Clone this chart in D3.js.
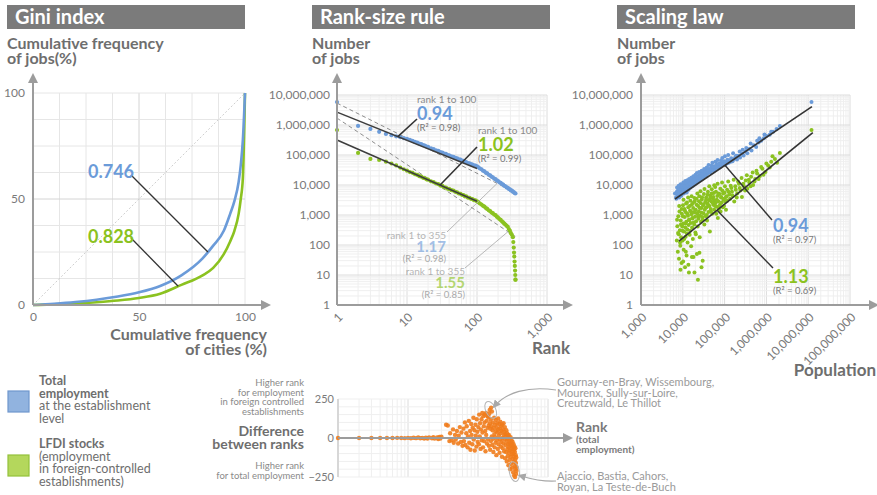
<!DOCTYPE html>
<html>
<head>
<meta charset="utf-8">
<script src="https://cdnjs.cloudflare.com/ajax/libs/d3/7.8.5/d3.min.js"></script>
<style>
  body { margin: 0; background: #fff; }
  svg { font-family: Lato, "Open Sans", sans-serif; }
</style>
</head>
<body>
<svg id="chart" width="877" height="495"></svg>
<script>
// ---------- Data ----------
// Lorenz curves: cumulative share of cities (%) vs cumulative share of jobs (%)
const giniCityShare = [0, 10, 20, 30, 40, 50, 60, 70, 80, 85, 90, 93, 95, 97, 98, 99, 100];
const giniTotalJobs = [0, 0.6, 1.4, 2.5, 4, 6, 9, 14, 22, 28, 35, 43, 49, 58, 66, 78, 100];
const giniLfdiJobs  = [0, 0.3, 0.7, 1.3, 2.1, 3.3, 5.3, 9.5, 14, 17.5, 24, 30, 35, 43, 50, 60, 100];
const giniIndex = [0.746, 0.828];
const giniTicks = [0, 50, 100];

// Rank-size: [rank, number of jobs]
const rankTotal = [
  [1,5800000],[2,930000],[3,740000],[4,590000],[5,505000],[6,455000],[7,420000],[8,392000],[9,366000],[10,348000],
  [11,322000],[12,298000],[13,272000],[14,259000],[15,238000],[16,229000],[17,212000],[18,206000],[19,191000],[20,186000],
  [22,167000],[24,158000],[26,143000],[28,137000],[30,125000],[32,121000],[34,112000],[36,109000],[38,100000],[40,98000],
  [43,90000],[46,87000],[49,80000],[52,78000],[55,72000],[58,70000],[61,65000],[64,63500],[67,60000],[70,58500],
  [74,54000],[78,53000],[82,49500],[86,48200],[90,45500],[95,44200],[100,41500],[105,39000],[110,35500],[116,33400],
  [122,29800],[128,28300],[134,25500],[140,24500],[147,22000],[154,20800],[161,19000],[168,18100],[176,16300],[184,15600],
  [192,14200],[200,13500],[209,12300],[218,11800],[227,10700],[236,10300],[245,9400],[255,9100],[265,8300],[275,8100],
  [285,7400],[295,7200],[305,6600],[315,6500],[325,6000],[335,5800],[345,5400],[355,5200]
];
const rankLfdi = [
  [1,680000],[2,117000],[3,74000],[4,68000],[5,60000],[6,52000],[7,45000],[8,38000],[9,33500],[10,30000],
  [11,27000],[12,25400],[13,22800],[14,21600],[15,19700],[16,18900],[17,17300],[18,16800],[19,15500],[20,15000],
  [22,13300],[24,12500],[26,11200],[28,10700],[30,9600],[32,9300],[34,8400],[36,8200],[38,7500],[40,7400],
  [43,6700],[46,6500],[49,5900],[52,5700],[55,5200],[58,5100],[61,4700],[64,4600],[67,4200],[70,4200],
  [74,3800],[78,3750],[82,3450],[86,3400],[90,3150],[95,3050],[100,2850],[105,2650],[110,2420],[116,2230],
  [122,2020],[128,1890],[134,1700],[140,1600],[147,1430],[154,1350],[161,1210],[168,1150],[176,1040],[184,990],
  [192,880],[200,815],[209,735],[218,685],[227,615],[236,570],[245,515],[255,480],[265,435],[275,405],
  [285,340],[295,300],[305,248],[315,218],[325,183],[330,125],[335,82],[338,56],[341,41],[344,28],
  [347,20],[350,14],[352,10],[354,7],[355,7]
];
// Fitted power laws: log10(jobs) = intercept - slope * log10(rank)
const rankFitSeries     = ["total", "lfdi", "total", "lfdi"];
const rankFitSlopes     = [0.94, 1.02, 1.17, 1.55];
const rankFitIntercepts = [6.43, 5.50, 6.73, 6.23];
const rankFitMaxRank    = [100, 100, 355, 355];
const rankFitR2         = [0.98, 0.99, 0.98, 0.85];

// Scaling law: [population, number of jobs]
const popTotal = [
  [6500,5200],[6900,3900],[7200,6000],[7500,4600],[7800,7100],[8100,5400],[8400,4300],[8700,8000],[9000,6200],[9300,5000],
  [9600,7400],[9900,9200],[10200,5900],[10500,7900],[10800,6600],[11100,10200],[11400,8300],[11800,6400],[12200,9300],[12600,11800],
  [13000,7900],[13400,10100],[13900,8700],[14400,12800],[14900,9800],[15500,11200],[16100,14500],[16700,10400],[17300,12400],[18000,15200],
  [18700,11600],[19400,16800],[20200,13500],[21000,15600],[21900,19000],[22800,14300],[23800,17400],[24800,21000],[25900,16400],[27000,19800],
  [28200,24000],[29500,18700],[30800,22500],[32200,27500],[33700,21000],[35200,25400],[36800,31000],[38500,23800],[40300,28500],[42200,34000],
  [44200,26600],[46300,31500],[48500,38000],[50800,30500],[53200,35500],[55700,42000],[58400,33800],[61200,40500],[64100,47000],[67200,37500],
  [70400,45000],[73800,52000],[77300,42500],[81000,49500],[85000,58000],[89000,46000],[93500,54000],[98000,62000],[104000,48000],[110000,58000],
  [117000,70000],[125000,55000],[134000,66000],[144000,78000],[155000,62000],[168000,74000],[182000,88000],[198000,71000],[215000,95000],[235000,82000],
  [258000,110000],[285000,96000],[315000,130000],[350000,115000],[390000,160000],[440000,140000],[500000,210000],[570000,185000],[650000,260000],[750000,300000],
  [870000,360000],[1000000,430000],[1200000,470000],[1450000,590000],[1750000,740000],[2100000,930000],[12000000,5800000],
  [7000,3500],[7300,8200],[7700,5600],[8000,9500],[8200,3800],[8600,6800],[8900,10500],[9200,4400],[9500,8900],[9900,6100],
  [10300,12000],[10600,5200],[11000,9000],[11500,13500],[11900,7400],[12400,5600],[12800,14500],[13200,9700],[13700,6900],[14200,16000],
  [14800,11200],[15400,8300],[16000,17500],[16600,12700],[17200,9200],[17900,19500],[18600,13800],[19300,10500],[20100,22000],[20900,12300],
  [21800,25000],[22700,17000],[23700,13000],[24700,27000],[25800,20000],[27000,15500],[28300,30000],[29600,23000],[31000,17800],[32500,34000],
  [34000,26000],[35700,20500],[37500,38000],[39400,29500],[41500,46000],[43600,33000],[46000,25500],[48500,44000],[51000,55000],[54000,40000],
  [57000,30000],[60000,60000],[64000,42000],[68000,68000],[72000,50000],[77000,38000],[82000,65000],[88000,80000],[95000,48000],[102000,90000],
  [112000,52000],[122000,100000],[140000,60000],[160000,115000],[190000,95000],[230000,130000],[270000,150000],[330000,170000],[420000,240000],[600000,300000],
  [680000,360000],[900000,480000],[1300000,600000]
];
const popLfdi = [
  [7200,140],[7400,420],[7600,60],[7800,900],[8000,230],[8100,35],[8300,1300],[8500,310],[8700,95],[8900,650],
  [9100,180],[9300,25],[9500,1100],[9700,410],[9900,140],[10100,2100],[10300,520],[10500,70],[10700,280],[10900,1600],
  [11100,850],[11300,18],[11500,380],[11700,190],[11900,1200],[12100,600],[12300,45],[12600,2600],[12800,330],[13000,120],
  [13300,950],[13500,1800],[13800,460],[14000,12],[14300,700],[14600,220],[14900,1400],[15200,3000],[15500,540],[15800,90],
  [16100,1050],[16400,2200],[16700,380],[17000,760],[17400,160],[17700,1700],[18000,40],[18400,1250],[18800,480],[19200,2800],
  [19600,880],[20000,260],[20400,1500],[20800,620],[21300,3500],[21700,50],[22200,1100],[22700,410],[23000,7],[23200,2000],
  [23700,750],[24200,1300],[24800,4200],[25400,180],[26000,950],[26600,2500],[27200,600],[27800,1700],[28500,3300],[29200,850],
  [29900,30],[30600,2100],[31300,1150],[32000,5000],[32800,480],[33600,1500],[34400,2700],[35300,900],[36200,3800],[37100,1800],
  [38000,650],[39000,2400],[40000,6000],[41000,1250],[42000,3100],[43200,2000],[44400,280],[45600,4500],[46800,1600],[48000,2800],
  [49300,7200],[50600,1100],[52000,3600],[53500,2200],[55000,5400],[56500,1500],[58000,3000],[59600,8500],[61000,2500],[63000,1100],
  [65000,1900],[67000,4300],[69000,800],[71000,2900],[73000,1600],[75000,5000],[77500,2200],[80000,1300],[82500,3800],[85000,2600],
  [88000,6500],[91000,1800],[94000,3300],[97000,2000],[100000,5500],[104000,2800],[108000,1500],[112000,4200],[116000,3000],[125000,6000],
  [135000,3500],[145000,8000],[155000,4500],[170000,2800],[185000,7000],[200000,5200],[220000,11000],[240000,6500],[260000,4000],[290000,9000],
  [320000,14000],[350000,7500],[390000,12000],[430000,19000],[480000,10000],[540000,16000],[600000,24000],[700000,20000],[800000,35000],[950000,27000],
  [1100000,45000],[1300000,60000],[1600000,74000],[2100000,117000],[12000000,680000],
  [7300,700],[7700,250],[8200,2000],[8600,120],[9000,480],[9400,1600],[9800,300],[10000,900],[10400,3200],[10800,160],
  [11200,1400],[11600,520],[12000,2400],[12500,240],[12900,1100],[13400,3800],[13900,680],[14500,2000],[15000,300],[15600,1300],
  [16200,4200],[16900,800],[17500,2500],[18200,560],[18900,3700],[19700,1200],[20500,230],[21400,2200],[22300,5200],[23300,900],
  [24300,2900],[25400,1700],[26500,6200],[27600,1200],[28900,3900],[30100,700],[31500,2300],[33000,7300],[34500,1700],[36000,3200],
  [37600,1000],[39300,4700],[41000,2100],[43000,9000],[45000,3600],[47000,1300],[49000,5200],[51500,2600],[54000,4000],[56500,9800],
  [59000,2000],[62000,6000],[65000,3200],[68000,11000],[71500,5200],[75000,1900],[79000,7500],[83000,4000],[87000,12000],[92000,5200],
  [97000,3500],[102000,9000],[108000,4000],[115000,7000],[122000,13000],[130000,4800],[140000,9500],[150000,6000],[165000,15000],[180000,9000],
  [195000,3800],[210000,13000],[230000,8000],[255000,17000],[280000,11000],[310000,6500],[340000,21000],[380000,15000],[420000,9000],[470000,26000],
  [520000,13000],[580000,30000],[650000,16000],[750000,40000],[850000,22000],[1000000,52000],[1200000,38000],[1400000,90000],[1800000,55000],
  [8800,15],[10200,28],[11800,60],[13600,22],[16500,40],[19000,12],[25000,55],[28000,18]
];
// Fitted scaling laws: log10(jobs) = intercept + slope * log10(population)
const scalingSlopes     = [0.94, 1.13];
const scalingIntercepts = [-0.05, -2.29];
const scalingR2         = [0.97, 0.69];
const scalingPopRange   = [[6500, 12300000], [8100, 12900000]];

// Difference between ranks (LFDI rank vs total-employment rank): [rank (total employment), difference]
const rankDiff = [
  [1,0],[2,0],[3,0],[4,0],[5,0],[6,0],[7,1],[8,0],[9,-1],[10,1],[11,-2],[12,2],[13,-1],[14,3],[15,-2],[16,1],[17,-4],[18,2],[19,-3],[20,4],
  [22,-2],[23,5],[24,-4],[26,3],[27,-6],[28,6],[29,-3],[30,8],[35,85],[37,80],[39,-20],[40,30],[42,-15],[44,55],[45,-30],[47,20],
  [48,-10],[50,45],[52,-35],[53,15],[55,70],[57,-25],[58,35],[60,-50],[62,60],[63,-20],[65,100],[66,-45],[68,30],[69,75],
  [71,-60],[72,10],[74,110],[75,-30],[77,45],[78,-75],[80,90],[81,20],[83,-40],[84,65],[86,130],[87,-10],[89,50],[90,-80],
  [92,85],[93,15],[95,-55],[96,120],[98,40],[99,-25],[101,70],[103,-40],[104,150],[106,10],[107,95],[109,-70],[110,55],[112,120],
  [113,-15],[115,160],[116,35],[118,-60],[119,140],[121,75],[122,-20],[124,100],[125,150],[127,45],[128,-85],[130,160],[131,20],[133,110],
  [134,-35],[136,140],[137,65],[139,-10],[140,135],[142,80],[143,-50],[145,155],[147,180],[148,95],[149,-75],[150,60],[152,120],[153,-20],
  [154,195],[155,75],[157,10],[158,170],[160,-45],[161,50],[163,100],[165,-5],[166,-90],[168,65],[170,130],[171,25],[173,-60],[175,85],
  [176,5],[178,-30],[180,115],[181,45],[183,-110],[185,70],[187,-15],[188,95],[190,35],[192,-70],[194,125],[195,55],[197,-40],[199,15],
  [201,90],[203,-95],[205,60],[206,-10],[208,105],[210,30],[212,-55],[214,75],[216,-25],[218,45],[220,-120],[222,85],[224,0],[226,-65],
  [228,55],[230,-35],[232,95],[234,20],[236,-85],[238,40],[240,-10],[242,70],[244,-130],[246,25],[248,-45],[250,10],[252,-90],[254,50],
  [256,-20],[258,-150],[260,30],[262,-70],[264,-5],[266,-115],[268,15],[270,-40],[272,-175],[274,-60],[276,20],[278,-95],[280,-30],[282,-140],
  [284,-10],[286,-80],[288,-200],[290,-50],[292,5],[294,-120],[296,-35],[298,-165],[300,-70],[302,-15],[304,-105],[306,-45],[308,-190],[310,-85],
  [312,-25],[314,-135],[316,-60],[318,-220],[320,-100],[322,-40],[324,-155],[326,-75],[328,-240],[330,-120],[332,-55],[334,-180],[336,-90],[338,-250],
  [340,-140],[342,-65],[344,-200],[346,-110],[348,-160],[350,-230],[352,-125],[354,-185],[355,-210]
];

const rankTicks = [1, 10, 100, 1000];
const jobTicks  = [1, 10, 100, 1000, 10000, 100000, 1000000, 10000000];
const popTicks  = [1000, 10000, 100000, 1000000, 10000000, 100000000];
const diffTicks = [-250, 0, 250];

// ---------- Styles ----------
const TOTAL = "#6b9bd9", LFDI = "#8bc220", ORANGE = "#f07c1c";
const AXIS = "#9c9c9c", TEXT = "#6e6e6e", TICK = "#7a7a7a";
const GRID_MAJOR = "#dcdcdc", GRID_MINOR = "#efefef";

const svg = d3.select("#chart");
const defs = svg.append("defs");
defs.append("marker").attr("id", "axisArrow")
  .attr("viewBox", "0 0 10 10").attr("refX", 3).attr("refY", 5)
  .attr("markerWidth", 5).attr("markerHeight", 5).attr("orient", "auto")
  .append("path").attr("d", "M0,0L10,5L0,10z").attr("fill", AXIS);
defs.append("marker").attr("id", "noteArrow")
  .attr("viewBox", "0 0 10 10").attr("refX", 8).attr("refY", 5)
  .attr("markerUnits", "userSpaceOnUse").attr("markerWidth", 8).attr("markerHeight", 8).attr("orient", "auto")
  .append("path").attr("d", "M0,0L10,5L0,10z").attr("fill", "#a8a8a8");

function titleBar(x, w, label) {
  svg.append("rect").attr("x", x).attr("y", 5).attr("width", w).attr("height", 24).attr("fill", "#7b7b7b");
  svg.append("text").attr("x", x + 8).attr("y", 24).text(label)
    .attr("fill", "#fff").attr("font-size", 20).attr("font-weight", 700);
}
function multiline(x, y, lines, opts) {
  const t = svg.append("text").attr("x", x).attr("y", y)
    .attr("fill", opts.fill || TEXT).attr("font-size", opts.size || 16)
    .attr("font-weight", opts.weight || 700).attr("text-anchor", opts.anchor || "start");
  lines.forEach((l, i) => {
    const s = t.append("tspan").attr("x", x).attr("dy", i === 0 ? 0 : (opts.lh || 14)).text(typeof l === "string" ? l : l.text);
    if (typeof l !== "string") {
      if (l.weight) s.attr("font-weight", l.weight);
      if (l.size) s.attr("font-size", l.size);
    }
  });
  return t;
}
function arrowLine(x1, y1, x2, y2, w) {
  svg.append("line").attr("x1", x1).attr("y1", y1).attr("x2", x2).attr("y2", y2)
    .attr("stroke", AXIS).attr("stroke-width", w || 2).attr("marker-end", "url(#axisArrow)");
}
function logValues(lo, hi) {
  const out = [];
  for (let e = Math.round(Math.log10(lo)); e < Math.round(Math.log10(hi)); e++)
    for (let m = 1; m < 10; m++) out.push(m * Math.pow(10, e));
  out.push(hi);
  return out;
}
function logGrid(g, xs, ys, xVals, yVals) {
  const [x0, x1] = xs.range(), [y0, y1] = ys.range();
  const isMajor = v => Math.abs(Math.log10(v) - Math.round(Math.log10(v))) < 1e-9;
  g.selectAll(null).data(xVals).join("line")
    .attr("x1", d => xs(d)).attr("x2", d => xs(d)).attr("y1", y0).attr("y2", y1)
    .attr("stroke", d => isMajor(d) ? GRID_MAJOR : GRID_MINOR).attr("stroke-width", 1);
  g.selectAll(null).data(yVals).join("line")
    .attr("y1", d => ys(d)).attr("y2", d => ys(d)).attr("x1", x0).attr("x2", x1)
    .attr("stroke", d => isMajor(d) ? GRID_MAJOR : GRID_MINOR).attr("stroke-width", 1);
}
function styleAxis(g, size) {
  g.select(".domain").remove();
  g.selectAll("text").attr("fill", TICK).attr("font-size", size || 12).attr("font-family", "Lato, sans-serif");
}
function rotatedBottom(g, scale, values, fmt) {
  g.call(d3.axisBottom(scale).tickValues(values).tickFormat(fmt).tickSize(0).tickPadding(0));
  styleAxis(g);
  g.selectAll("text").attr("text-anchor", "end").attr("y", 0).attr("dy", "0.35em")
    .attr("transform", "translate(3,10) rotate(-45)");
}
const fmtComma = d3.format(",");

// ---------- Panel 1: Gini index ----------
titleBar(7, 238, "Gini index");
multiline(7, 49, ["Cumulative frequency", "of jobs(%)"], { lh: 15 });
const gx = d3.scaleLinear([0, 100], [33, 245]);
const gy = d3.scaleLinear([0, 100], [305, 93]);
const gGini = svg.append("g");
const giniGrid = d3.range(0, 101, 12.5);
gGini.selectAll(null).data(giniGrid).join("line")
  .attr("x1", d => gx(d)).attr("x2", d => gx(d)).attr("y1", gy(0)).attr("y2", gy(100))
  .attr("stroke", d => d === 50 ? "#d4d4d4" : "#e6e6e6");
gGini.selectAll(null).data(giniGrid).join("line")
  .attr("y1", d => gy(d)).attr("y2", d => gy(d)).attr("x1", gx(0)).attr("x2", gx(100))
  .attr("stroke", d => d === 50 ? "#d4d4d4" : "#e6e6e6");
gGini.append("line").attr("x1", gx(0)).attr("y1", gy(0)).attr("x2", gx(100)).attr("y2", gy(100))
  .attr("stroke", "#cfcfcf").attr("stroke-dasharray", "2,2");
const lorenz = d3.line().x(d => gx(d[0])).y(d => gy(d[1])).curve(d3.curveMonotoneX);
const lorenzTotal = giniCityShare.map((c, i) => [c, giniTotalJobs[i]]);
const lorenzLfdi = giniCityShare.map((c, i) => [c, giniLfdiJobs[i]]);
gGini.append("path").attr("d", lorenz(lorenzLfdi)).attr("fill", "none").attr("stroke", LFDI).attr("stroke-width", 2.6);
gGini.append("path").attr("d", lorenz(lorenzTotal)).attr("fill", "none").attr("stroke", TOTAL).attr("stroke-width", 2.6);
function lorenzAt(pts, x) {
  for (let i = 1; i < pts.length; i++) if (x <= pts[i][0]) {
    const t = (x - pts[i - 1][0]) / (pts[i][0] - pts[i - 1][0]);
    return pts[i - 1][1] + t * (pts[i][1] - pts[i - 1][1]);
  }
  return 100;
}
[[lorenzTotal, 82.5, 175, TOTAL, giniIndex[0], 178], [lorenzLfdi, 68.5, 238, LFDI, giniIndex[1], 243]].forEach(([pts, cx, ly, col, val, ty]) => {
  gGini.append("line").attr("x1", 131).attr("y1", ly).attr("x2", gx(cx)).attr("y2", gy(lorenzAt(pts, cx)))
    .attr("stroke", "#333").attr("stroke-width", 1.3);
  gGini.append("text").attr("x", 88).attr("y", ty).text(val.toFixed(3))
    .attr("fill", col).attr("font-size", 18).attr("font-weight", 700);
});
const gAxX = svg.append("g").attr("transform", `translate(0,${gy(0)})`)
  .call(d3.axisBottom(gx).tickValues(giniTicks).tickSize(0).tickPadding(7));
styleAxis(gAxX);
const gAxY = svg.append("g").attr("transform", `translate(${gx(0)},0)`)
  .call(d3.axisLeft(gy).tickValues(giniTicks).tickSize(0).tickPadding(8));
styleAxis(gAxY);
arrowLine(gx(0), gy(0), gx(0), 80);
arrowLine(gx(0), gy(0), 264, gy(0));
multiline(267, 340, ["Cumulative frequency", "of cities (%)"], { anchor: "end", lh: 15 });

// ---------- Panel 2: Rank-size rule ----------
titleBar(312, 238, "Rank-size rule");
multiline(312, 49, ["Number", "of jobs"], { lh: 15 });
const rx = d3.scaleLog([1, 1000], [337, 547]);
const ry = d3.scaleLog([1, 1e7], [305, 95]);
const gRank = svg.append("g");
logGrid(gRank, rx, ry, logValues(1, 1000), logValues(1, 1e7));
const fitColor = s => s === "total" ? TOTAL : LFDI;
const fitPoint = (i, r) => [rx(r), ry(Math.pow(10, rankFitIntercepts[i] - rankFitSlopes[i] * Math.log10(r)))];
// dashed fits over all ranks
rankFitSlopes.forEach((s, i) => {
  if (rankFitMaxRank[i] !== 355) return;
  const a = fitPoint(i, 1), b = fitPoint(i, rankFitMaxRank[i]);
  gRank.append("line").attr("x1", a[0]).attr("y1", a[1]).attr("x2", b[0]).attr("y2", b[1])
    .attr("stroke", "#8d8d8d").attr("stroke-width", 1).attr("stroke-dasharray", "4,3");
});
gRank.selectAll(null).data(rankLfdi).join("circle")
  .attr("cx", d => rx(d[0])).attr("cy", d => ry(d[1])).attr("r", 2.1).attr("fill", LFDI);
gRank.selectAll(null).data(rankTotal).join("circle")
  .attr("cx", d => rx(d[0])).attr("cy", d => ry(d[1])).attr("r", 2.1).attr("fill", TOTAL);
rankFitSlopes.forEach((s, i) => {
  if (rankFitMaxRank[i] !== 100) return;
  const a = fitPoint(i, 1), b = fitPoint(i, rankFitMaxRank[i]);
  gRank.append("line").attr("x1", a[0]).attr("y1", a[1]).attr("x2", b[0]).attr("y2", b[1])
    .attr("stroke", "#3d3d3d").attr("stroke-width", 1.5);
});
// fit annotations: [fit index, rank touched by leader, label x, label top y, leader start, anchor, leader colour, emphasis]
const rankNotes = [
  [0, 7.4, 417, 103, [417, 119], "start", "#333", 1],
  [1, 29.7, 478, 134, [477, 147], "start", "#333", 1],
  [2, 194, 446, 239, [447, 232], "end", "#b0b0b0", 0.75],
  [3, 277, 465, 275, [465, 268], "end", "#b0b0b0", 0.75]
];
rankNotes.forEach(([i, r, x, y, st, anchor, lc, op]) => {
  const p = fitPoint(i, r);
  gRank.append("line").attr("x1", st[0]).attr("y1", st[1]).attr("x2", p[0]).attr("y2", p[1])
    .attr("stroke", lc).attr("stroke-width", op === 1 ? 1.6 : 0.9);
  const g = gRank.append("g").attr("opacity", op === 1 ? 1 : 0.62);
  g.append("text").attr("x", x).attr("y", y).attr("text-anchor", anchor)
    .attr("font-size", 10).attr("fill", "#8a8a8a").text(`rank 1 to ${rankFitMaxRank[i]}`);
  g.append("text").attr("x", x).attr("y", y + (op === 1 ? 17 : 13)).attr("text-anchor", anchor)
    .attr("font-size", op === 1 ? 18 : 15).attr("font-weight", 700).attr("fill", fitColor(rankFitSeries[i]))
    .text(rankFitSlopes[i].toFixed(2));
  g.append("text").attr("x", x).attr("y", y + (op === 1 ? 28 : 23)).attr("text-anchor", anchor)
    .attr("font-size", 9.5).attr("fill", "#777").text(`(R² = ${rankFitR2[i].toFixed(2)})`);
});
const rAxY = svg.append("g").attr("transform", `translate(${rx(1)},0)`)
  .call(d3.axisLeft(ry).tickValues(jobTicks).tickFormat(fmtComma).tickSize(0).tickPadding(7));
styleAxis(rAxY);
rotatedBottom(svg.append("g").attr("transform", `translate(0,${ry(1)})`), rx, rankTicks, fmtComma);
arrowLine(rx(1), ry(1), rx(1), 80);
arrowLine(rx(1), ry(1), 566, ry(1));
multiline(570, 354, ["Rank"], { anchor: "end", size: 17 });

// ---------- Panel 3: Scaling law ----------
titleBar(617, 238, "Scaling law");
multiline(617, 49, ["Number", "of jobs"], { lh: 15 });
const px = d3.scaleLog([1e3, 1e8], [641, 850]);
const py = d3.scaleLog([1, 1e7], [305, 95]);
const gScale = svg.append("g");
logGrid(gScale, px, py, logValues(1e3, 1e8), logValues(1, 1e7));
gScale.selectAll(null).data(popLfdi).join("circle")
  .attr("cx", d => px(d[0])).attr("cy", d => py(d[1])).attr("r", 2).attr("fill", LFDI);
gScale.selectAll(null).data(popTotal).join("circle")
  .attr("cx", d => px(d[0])).attr("cy", d => py(d[1])).attr("r", 2).attr("fill", TOTAL);
const scalePoint = (i, p) => [px(p), py(Math.pow(10, scalingIntercepts[i] + scalingSlopes[i] * Math.log10(p)))];
scalingSlopes.forEach((s, i) => {
  const a = scalePoint(i, scalingPopRange[i][0]), b = scalePoint(i, scalingPopRange[i][1]);
  gScale.append("line").attr("x1", a[0]).attr("y1", a[1]).attr("x2", b[0]).attr("y2", b[1])
    .attr("stroke", "#333").attr("stroke-width", 1.6);
});
// [fit index, population touched by leader, leader end, label baseline]
[[0, 102000, [772, 220], 232, TOTAL], [1, 66000, [773, 268], 283, LFDI]].forEach(([i, p, end, by, col]) => {
  const a = scalePoint(i, p);
  gScale.append("line").attr("x1", a[0]).attr("y1", a[1]).attr("x2", end[0]).attr("y2", end[1])
    .attr("stroke", "#333").attr("stroke-width", 1.4);
  gScale.append("text").attr("x", 773).attr("y", by).text(scalingSlopes[i].toFixed(2))
    .attr("fill", col).attr("font-size", 18).attr("font-weight", 700);
  gScale.append("text").attr("x", 773).attr("y", by + 11).text(`(R² = ${scalingR2[i].toFixed(2)})`)
    .attr("fill", "#777").attr("font-size", 9.5);
});
const sAxY = svg.append("g").attr("transform", `translate(${px(1e3)},0)`)
  .call(d3.axisLeft(py).tickValues(jobTicks).tickFormat(fmtComma).tickSize(0).tickPadding(8));
styleAxis(sAxY);
rotatedBottom(svg.append("g").attr("transform", `translate(0,${py(1)})`), px, popTicks, fmtComma);
arrowLine(px(1e3), py(1), px(1e3), 80);
arrowLine(px(1e3), py(1), 872, py(1));
multiline(876, 376, ["Population"], { anchor: "end", size: 17 });

// ---------- Legend ----------
svg.append("rect").attr("x", 8).attr("y", 391).attr("width", 21).attr("height", 21)
  .attr("fill", "#91b3df").attr("stroke", "#6f97cd").attr("stroke-width", 1.2);
svg.append("rect").attr("x", 8).attr("y", 455).attr("width", 21).attr("height", 21)
  .attr("fill", "#b4d75c").attr("stroke", "#93c13a").attr("stroke-width", 1.2);
multiline(39, 385, ["Total", "employment", { text: "at the establishment", weight: 400 }, { text: "level", weight: 400 }],
  { size: 12.5, lh: 12.5 });
multiline(39, 448, ["LFDI stocks", { text: "(employment", weight: 400 }, { text: "in foreign-controlled", weight: 400 },
  { text: "establishments)", weight: 400 }], { size: 12.5, lh: 12.5 });

// ---------- Difference between ranks ----------
const bx = d3.scaleLog([1, 1000], [338, 548]);
const by = d3.scaleLinear([-250, 250], [477, 399]);
const gDiff = svg.append("g");
gDiff.selectAll(null).data(logValues(1, 1000)).join("line")
  .attr("x1", d => bx(d)).attr("x2", d => bx(d)).attr("y1", by(-250)).attr("y2", by(250))
  .attr("stroke", d => Math.abs(Math.log10(d) % 1) < 1e-9 ? GRID_MAJOR : GRID_MINOR);
gDiff.selectAll(null).data(d3.range(-250, 251, 50)).join("line")
  .attr("y1", d => by(d)).attr("y2", d => by(d)).attr("x1", bx(1)).attr("x2", bx(1000))
  .attr("stroke", GRID_MINOR);
gDiff.append("line").attr("x1", bx(1)).attr("x2", bx(1)).attr("y1", by(-250)).attr("y2", by(250))
  .attr("stroke", "#cfcfcf").attr("stroke-width", 1.5);
svg.append("line").attr("x1", bx(1)).attr("y1", by(0)).attr("x2", 566).attr("y2", by(0))
  .attr("stroke", AXIS).attr("stroke-width", 2).attr("marker-end", "url(#axisArrow)");
gDiff.selectAll(null).data(rankDiff).join("circle")
  .attr("cx", d => bx(d[0])).attr("cy", d => by(d[1])).attr("r", 2.2).attr("fill", ORANGE).attr("opacity", 0.9);
const dAxY = svg.append("g").attr("transform", `translate(${bx(1)},0)`)
  .call(d3.axisLeft(by).tickValues(diffTicks).tickSize(0).tickPadding(4));
styleAxis(dAxY, 11);
multiline(304, 386, ["Higher rank", "for employment", "in foreign controlled", "establishments"],
  { anchor: "end", size: 9.5, weight: 400, fill: "#8a8a8a", lh: 9.5 });
multiline(304, 436, ["Difference", "between ranks"], { anchor: "end", size: 14, lh: 13 });
multiline(304, 469, ["Higher rank", "for total employment"], { anchor: "end", size: 9.5, weight: 400, fill: "#8a8a8a", lh: 10 });
multiline(576, 432, ["Rank", { text: "(total", size: 10 }, { text: "employment)", size: 10 }],
  { size: 14, lh: 10.5, fill: "#7a7a7a" });
// outlier call-outs
svg.append("ellipse").attr("cx", bx(152)).attr("cy", by(180)).attr("rx", 5).attr("ry", 9)
  .attr("transform", `rotate(-25,${bx(152)},${by(180)})`).attr("fill", "none").attr("stroke", "#b5b5b5");
svg.append("ellipse").attr("cx", bx(330)).attr("cy", by(-215)).attr("rx", 5).attr("ry", 10)
  .attr("transform", `rotate(-10,${bx(330)},${by(-215)})`).attr("fill", "none").attr("stroke", "#b5b5b5");
svg.append("path").attr("d", `M556,390 C528,386 506,392 ${bx(152) + 3},${by(180) - 3}`)
  .attr("fill", "none").attr("stroke", "#a8a8a8").attr("stroke-width", 1.1).attr("marker-end", "url(#noteArrow)");
svg.append("path").attr("d", `M556,481 C540,482 528,478 ${bx(330) + 5},${by(-215) + 4}`)
  .attr("fill", "none").attr("stroke", "#a8a8a8").attr("stroke-width", 1.1).attr("marker-end", "url(#noteArrow)");
multiline(557, 386, ["Gournay-en-Bray, Wissembourg,", "Mourenx, Sully-sur-Loire,", "Creutzwald, Le Thillot"],
  { size: 11, weight: 400, fill: "#9a9a9a", lh: 10.5 });
multiline(557, 480, ["Ajaccio, Bastia, Cahors,", "Royan, La Teste-de-Buch"],
  { size: 11, weight: 400, fill: "#9a9a9a", lh: 10.5 });
</script>
</body>
</html>
